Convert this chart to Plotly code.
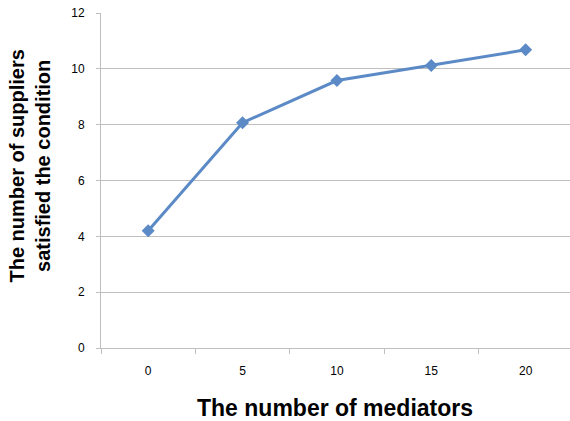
import plotly.graph_objects as go

categories = ["0", "5", "10", "15", "20"]
values = [4.2, 8.07, 9.58, 10.12, 10.68]
y_ticks = [0, 2, 4, 6, 8, 10, 12]

fig = go.Figure()
fig.add_trace(go.Scatter(
    x=categories, y=values, mode="lines+markers",
    line=dict(color="#5B8AC6", width=3),
    marker=dict(symbol="diamond", size=10, color="#5B8AC6"),
    showlegend=False,
))

grid = "#BFBFBF"
fig.update_layout(
    width=570, height=421,
    margin=dict(l=101, r=0, t=13, b=73),
    paper_bgcolor="white", plot_bgcolor="white",
    font=dict(family="Liberation Sans, Arial, sans-serif", size=12, color="black"),
    xaxis=dict(
        type="category", range=[-0.5, 4.47], tickson="boundaries",
        ticks="outside", ticklen=5, tickcolor=grid, tickwidth=1,
        showline=True, linecolor=grid, linewidth=1,
        showgrid=False, zeroline=False, ticklabelstandoff=12,
        tickfont=dict(size=12, color="black"),
    ),
    yaxis=dict(
        range=[0, 12], tickvals=y_ticks,
        ticks="outside", ticklen=4, tickcolor=grid,
        showline=True, linecolor=grid, linewidth=1,
        showgrid=True, gridcolor=grid, gridwidth=1,
        zeroline=False, ticklabelstandoff=9,
        tickfont=dict(size=12, color="black"),
    ),
    annotations=[
        dict(text="<b>The number of mediators</b>", xref="paper", yref="paper",
             x=0.499, y=0, yanchor="middle", yshift=-60, showarrow=False,
             font=dict(size=23, color="black")),
        dict(text="<b>The number of suppliers<br>satisfied the condition</b>",
             xref="paper", yref="paper", x=0, y=0.5, xanchor="center",
             yanchor="middle", xshift=-72, yshift=14, textangle=-90, showarrow=False,
             font=dict(size=20, color="black")),
    ],
)

fig.write_html("out.html", config={"displayModeBar": False},
               post_script="document.body.style.margin='0';")
